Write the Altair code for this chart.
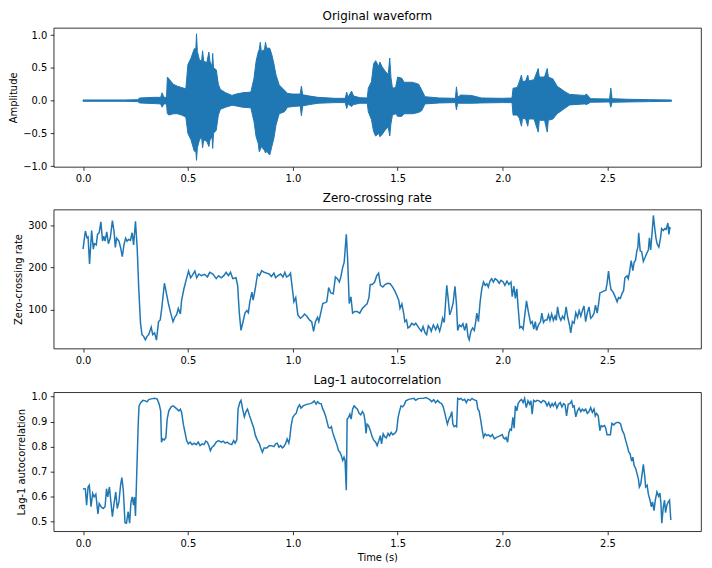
import altair as alt
import pandas as pd

# ---------------- waveform envelope (upper / lower) ----------------
wave_t = [0.0, 0.1, 0.2, 0.26, 0.27, 0.3, 0.34, 0.37, 0.377, 0.385,
          0.398, 0.402, 0.41, 0.43, 0.45, 0.47, 0.49, 0.5, 0.515, 0.53,
          0.538, 0.541, 0.545, 0.555, 0.565, 0.57, 0.575, 0.59, 0.6, 0.605,
          0.615, 0.618, 0.622, 0.635, 0.645, 0.655, 0.68, 0.71, 0.73, 0.76,
          0.8, 0.815, 0.825, 0.835, 0.84, 0.845, 0.85, 0.865, 0.87, 0.875,
          0.89, 0.9, 0.91, 0.92, 0.935, 0.96, 0.975, 1.0, 1.035, 1.041,
          1.047, 1.08, 1.12, 1.2, 1.25, 1.257, 1.263, 1.28, 1.29, 1.32,
          1.355, 1.36, 1.375, 1.385, 1.395, 1.41, 1.415, 1.425, 1.44, 1.455,
          1.462, 1.468, 1.475, 1.49, 1.5, 1.52, 1.53, 1.57, 1.6, 1.615,
          1.63, 1.7, 1.775, 1.78, 1.786, 1.8, 1.85, 1.9, 2.0, 2.045,
          2.05, 2.07, 2.08, 2.09, 2.095, 2.11, 2.12, 2.125, 2.15, 2.17,
          2.175, 2.2, 2.213, 2.218, 2.24, 2.26, 2.3, 2.32, 2.39, 2.4,
          2.42, 2.51, 2.516, 2.522, 2.6, 2.7, 2.805]
wave_hi = [0.01, 0.01, 0.01, 0.015, 0.04, 0.045, 0.05, 0.05, 0.12, 0.05,
           0.05, 0.36, 0.33, 0.25, 0.22, 0.2, 0.18, 0.55, 0.65, 0.79,
           0.8, 1.02, 0.75, 0.62, 0.6, 0.76, 0.6, 0.58, 0.74, 0.6,
           0.52, 0.72, 0.5, 0.47, 0.25, 0.17, 0.12, 0.08, 0.1, 0.12,
           0.13, 0.34, 0.6, 0.74, 0.78, 0.89, 0.75, 0.78, 0.89, 0.8,
           0.8, 0.7, 0.56, 0.39, 0.24, 0.16, 0.11, 0.1, 0.1, 0.22,
           0.09, 0.07, 0.05, 0.035, 0.035, 0.13, 0.05, 0.145, 0.07, 0.045,
           0.04, 0.19, 0.29, 0.56, 0.61, 0.52, 0.59, 0.52, 0.45, 0.4,
           0.65, 0.35, 0.19, 0.2, 0.36, 0.34, 0.28, 0.28, 0.25, 0.16,
           0.06, 0.04, 0.035, 0.21, 0.05, 0.085, 0.08, 0.04, 0.035, 0.04,
           0.19, 0.2, 0.29, 0.39, 0.29, 0.3, 0.39, 0.3, 0.32, 0.49,
           0.36, 0.36, 0.49, 0.36, 0.33, 0.22, 0.13, 0.095, 0.08, 0.1,
           0.03, 0.025, 0.19, 0.03, 0.02, 0.015, 0.01]
wave_lo = [-0.01, -0.01, -0.01, -0.015, -0.035, -0.04, -0.045, -0.05, -0.1, -0.05,
           -0.05, -0.2, -0.22, -0.2, -0.2, -0.22, -0.25, -0.5, -0.6, -0.77,
           -0.78, -0.91, -0.72, -0.6, -0.55, -0.72, -0.6, -0.62, -0.7, -0.6,
           -0.55, -0.73, -0.5, -0.45, -0.22, -0.13, -0.1, -0.07, -0.08, -0.1,
           -0.11, -0.32, -0.55, -0.65, -0.78, -0.75, -0.7, -0.76, -0.8, -0.77,
           -0.83, -0.7, -0.57, -0.37, -0.2, -0.17, -0.1, -0.09, -0.08, -0.23,
           -0.08, -0.06, -0.04, -0.03, -0.03, -0.12, -0.05, -0.09, -0.06, -0.04,
           -0.04, -0.17, -0.29, -0.47, -0.54, -0.5, -0.55, -0.52, -0.45, -0.4,
           -0.54, -0.35, -0.22, -0.2, -0.24, -0.24, -0.2, -0.2, -0.18, -0.15,
           -0.05, -0.035, -0.03, -0.14, -0.04, -0.04, -0.04, -0.035, -0.03, -0.03,
           -0.22, -0.22, -0.27, -0.39, -0.27, -0.28, -0.39, -0.28, -0.28, -0.48,
           -0.3, -0.3, -0.48, -0.3, -0.28, -0.2, -0.11, -0.065, -0.05, -0.06,
           -0.025, -0.02, -0.1, -0.025, -0.02, -0.015, -0.01]

# ---------------- zero-crossing rate ----------------
zcr_t = [0.0, 0.011, 0.019, 0.024, 0.031, 0.041, 0.049, 0.054, 0.063, 0.069,
         0.077, 0.085, 0.093, 0.099, 0.105, 0.113, 0.121, 0.130, 0.140, 0.148,
         0.154, 0.160, 0.171, 0.179, 0.187, 0.195, 0.203, 0.210, 0.218, 0.226,
         0.234, 0.241, 0.250, 0.258, 0.266, 0.274, 0.281, 0.289, 0.297, 0.305,
         0.313, 0.325, 0.332, 0.341, 0.350, 0.360, 0.368, 0.376, 0.388, 0.398,
         0.407, 0.418, 0.429, 0.439, 0.446, 0.454, 0.464, 0.470, 0.481, 0.491,
         0.503, 0.513, 0.520, 0.533, 0.542, 0.552, 0.564, 0.580, 0.593, 0.604,
         0.619, 0.635, 0.646, 0.659, 0.671, 0.682, 0.693, 0.703, 0.714, 0.729,
         0.737, 0.745, 0.753, 0.761, 0.772, 0.781, 0.788, 0.795, 0.805, 0.811,
         0.821, 0.832, 0.841, 0.852, 0.863, 0.876, 0.887, 0.898,
         0.910, 0.918, 0.929, 0.942, 0.953, 0.962, 0.970, 0.981, 0.989, 0.997,
         1.005, 1.014, 1.024, 1.036, 1.047, 1.056, 1.068, 1.079, 1.090, 1.099,
         1.108, 1.118, 1.124, 1.133, 1.143, 1.154, 1.162, 1.171, 1.181, 1.193,
         1.203, 1.212, 1.222, 1.229, 1.237, 1.245, 1.255, 1.261, 1.269, 1.277,
         1.285, 1.296, 1.306, 1.319, 1.331, 1.343, 1.354, 1.363, 1.369, 1.379,
         1.390, 1.400, 1.409, 1.418, 1.429, 1.440, 1.452, 1.464, 1.476, 1.486,
         1.495, 1.505, 1.511, 1.520, 1.528, 1.534, 1.542, 1.549, 1.558, 1.567,
         1.578, 1.586, 1.597, 1.605, 1.613, 1.621, 1.630, 1.638, 1.646, 1.654,
         1.660, 1.670, 1.681, 1.690, 1.700, 1.706, 1.714, 1.722, 1.728, 1.734,
         1.741, 1.748, 1.755, 1.764, 1.773, 1.780, 1.786, 1.794, 1.803, 1.811,
         1.819, 1.828, 1.835, 1.841, 1.849, 1.857, 1.865, 1.872,
         1.877, 1.885, 1.893, 1.901, 1.909, 1.917, 1.925, 1.932, 1.940, 1.948,
         1.956, 1.964, 1.975, 1.984, 1.992, 2.003, 2.011, 2.021, 2.030, 2.040,
         2.046, 2.054, 2.061, 2.068, 2.074, 2.082, 2.090, 2.098, 2.105, 2.114,
         2.124, 2.134, 2.141, 2.149, 2.156, 2.162, 2.171, 2.181, 2.187, 2.195,
         2.203, 2.212, 2.219, 2.226, 2.234, 2.242, 2.250, 2.256, 2.262, 2.270,
         2.278, 2.286, 2.294, 2.303, 2.310, 2.319, 2.325, 2.333, 2.341, 2.349,
         2.357, 2.365, 2.373, 2.382, 2.388, 2.396, 2.404, 2.412, 2.420, 2.428,
         2.436, 2.443, 2.451, 2.458, 2.464, 2.472, 2.483, 2.492, 2.498, 2.505,
         2.511, 2.517, 2.527, 2.536, 2.546, 2.553, 2.561, 2.570, 2.577, 2.583,
         2.593, 2.599, 2.605, 2.613, 2.621, 2.627, 2.634, 2.640, 2.645, 2.649,
         2.656, 2.663, 2.671, 2.679, 2.687, 2.695, 2.700, 2.706, 2.712, 2.719,
         2.725, 2.731, 2.737, 2.745, 2.753, 2.758, 2.766, 2.774, 2.780, 2.788,
         2.793, 2.797, 2.802]
zcr_v = [243, 286, 270, 272, 208, 287, 243, 256, 253, 278,
         282, 308, 262, 274, 262, 284, 256, 270, 311, 284,
         247, 269, 262, 247, 225, 253, 269, 262, 266, 264,
         282, 253, 309, 247, 145, 67, 40, 36, 28, 36,
         40, 58, 40, 44, 27, 71, 75, 106, 162, 137,
         114, 91, 71, 83, 87, 102, 89, 122, 149, 169,
         191, 175, 180, 191, 175, 184, 180, 183, 177, 188,
         184, 173, 180, 175, 180, 188, 180, 188, 173, 175,
         157, 91, 50, 67, 91, 97, 92, 118, 141, 122,
         149, 184, 180, 192, 188, 186, 184, 178,
         186, 175, 180, 184, 177, 188, 177, 180, 186, 153,
         118, 128, 87, 79, 83, 89, 83, 75, 71, 48,
         71, 81, 71, 91, 114, 116, 118, 152, 139, 137,
         177, 173, 165, 177, 198, 212, 278, 223, 114, 130,
         91, 95, 95, 91, 102, 108, 113, 128, 159, 159,
         165, 180, 186, 157, 153, 159, 162, 161, 153, 144,
         134, 122, 102, 113, 92, 71, 75, 56, 59, 67,
         63, 67, 59, 53, 48, 59, 45, 40, 61, 56,
         48, 63, 52, 63, 48, 59, 79, 69, 114, 157,
         123, 87, 97, 114, 155, 113, 50, 63, 59, 66,
         50, 67, 36, 28, 48, 56, 50, 71,
         91, 71, 118, 149, 165, 157, 161, 153, 167, 173,
         165, 173, 169, 162, 169, 165, 157, 167, 159, 165,
         130, 155, 126, 149, 106, 56, 59, 53, 83, 120,
         91, 67, 71, 53, 71, 50, 63, 71, 91, 69,
         75, 75, 87, 74, 89, 74, 84, 74, 106, 83,
         74, 84, 77, 106, 83, 63, 44, 71, 67, 92,
         81, 97, 84, 100, 108, 71, 92, 106, 79, 83,
         91, 110, 91, 114, 139, 141, 144, 145, 161, 191,
         165, 147, 141, 131, 118, 128, 126, 138, 145, 175,
         180, 173, 188, 216, 192, 212, 217, 239, 247, 282,
         239, 237, 214, 223, 233, 241, 270, 241, 278, 323,
         294, 270, 255, 248, 270, 292, 287, 292, 290, 305,
         278, 294, 292]

# ---------------- lag-1 autocorrelation ----------------
ac_t = [0.0, 0.011, 0.017, 0.024, 0.030, 0.038, 0.046, 0.053, 0.061, 0.071,
        0.077, 0.086, 0.096, 0.105, 0.112, 0.118, 0.126, 0.132, 0.140, 0.148,
        0.156, 0.163, 0.171, 0.179, 0.185, 0.192, 0.200, 0.207, 0.215, 0.222,
        0.228, 0.234, 0.241, 0.245, 0.250, 0.256, 0.263, 0.267, 0.275, 0.285,
        0.297, 0.305, 0.313, 0.325, 0.341, 0.354, 0.363, 0.370, 0.374, 0.379,
        0.387, 0.395, 0.401, 0.409, 0.420, 0.429, 0.439, 0.448, 0.457, 0.464,
        0.470, 0.478, 0.486, 0.494, 0.502, 0.511, 0.520, 0.530, 0.539, 0.549,
        0.558, 0.568, 0.577, 0.585, 0.593, 0.600, 0.607, 0.615, 0.624, 0.635,
        0.646, 0.659, 0.668, 0.678, 0.687, 0.698, 0.709, 0.718, 0.725, 0.733,
        0.739, 0.747, 0.753, 0.761, 0.769, 0.777, 0.784, 0.794, 0.803, 0.813,
        0.822, 0.832, 0.841, 0.847, 0.855, 0.863, 0.876, 0.887, 0.898,
        0.910, 0.918, 0.926, 0.934, 0.942, 0.950, 0.957, 0.965, 0.973, 0.981,
        0.986, 0.992, 1.000, 1.008, 1.016, 1.024, 1.032, 1.039, 1.049, 1.060,
        1.071, 1.083, 1.094, 1.102, 1.111, 1.118, 1.127, 1.135, 1.143, 1.149,
        1.156, 1.162, 1.170, 1.178, 1.184, 1.190, 1.198, 1.209, 1.218, 1.225,
        1.231, 1.238, 1.244, 1.249, 1.255, 1.259, 1.266, 1.272, 1.278, 1.285,
        1.292, 1.300, 1.308, 1.316, 1.324, 1.332, 1.339, 1.344, 1.349, 1.354,
        1.361, 1.369, 1.377, 1.385, 1.395, 1.402, 1.410, 1.417, 1.423, 1.431,
        1.438, 1.446, 1.454, 1.461, 1.469, 1.476, 1.486, 1.495, 1.502, 1.509,
        1.516, 1.524, 1.531, 1.539, 1.552, 1.564, 1.577, 1.586, 1.597, 1.610,
        1.622, 1.634, 1.643, 1.653, 1.662, 1.672, 1.681, 1.690, 1.700, 1.709,
        1.717, 1.725, 1.731, 1.737, 1.744, 1.752, 1.758, 1.763, 1.769, 1.775,
        1.781, 1.786, 1.794, 1.802, 1.810, 1.819, 1.827, 1.835, 1.846, 1.854,
        1.863,
        1.876, 1.882, 1.888, 1.895, 1.901, 1.909, 1.917, 1.925, 1.932, 1.942,
        1.951, 1.961, 1.970, 1.980, 1.989, 1.998, 2.005, 2.011, 2.017, 2.024,
        2.030, 2.036, 2.042, 2.049, 2.055, 2.061, 2.068, 2.074, 2.082, 2.090,
        2.098, 2.105, 2.113, 2.121, 2.129, 2.135, 2.141, 2.148, 2.156, 2.165,
        2.174, 2.184, 2.193, 2.203, 2.212, 2.220, 2.228, 2.236, 2.242, 2.251,
        2.259, 2.267, 2.275, 2.283, 2.291, 2.298, 2.305, 2.313, 2.321, 2.329,
        2.335, 2.341, 2.349, 2.357, 2.365, 2.373, 2.380, 2.388, 2.396, 2.404,
        2.412, 2.420, 2.428, 2.436, 2.442, 2.448, 2.456, 2.464, 2.470, 2.478,
        2.486, 2.492, 2.498, 2.506, 2.514, 2.521, 2.530, 2.537, 2.545, 2.555,
        2.563, 2.571, 2.579, 2.587, 2.594, 2.602, 2.608, 2.615, 2.621, 2.627,
        2.635, 2.643, 2.648, 2.652, 2.659, 2.665, 2.671, 2.678, 2.682, 2.689,
        2.695, 2.703, 2.709, 2.715, 2.722, 2.728, 2.736, 2.744, 2.750, 2.755,
        2.759, 2.766, 2.772, 2.777, 2.783, 2.790, 2.796, 2.802]
ac_v = [0.632, 0.631, 0.566, 0.639, 0.646, 0.560, 0.613, 0.599, 0.610, 0.531,
        0.573, 0.560, 0.553, 0.560, 0.632, 0.599, 0.639, 0.586, 0.520, 0.573,
        0.619, 0.553, 0.579, 0.646, 0.676, 0.626, 0.496, 0.494, 0.540, 0.494,
        0.573, 0.599, 0.566, 0.599, 0.523, 0.692, 0.890, 0.963, 0.976, 0.985,
        0.983, 0.979, 0.988, 0.991, 0.993, 0.990, 0.970, 0.943, 0.818, 0.831,
        0.827, 0.837, 0.910, 0.943, 0.959, 0.963, 0.957, 0.950, 0.943, 0.950,
        0.937, 0.890, 0.857, 0.824, 0.811, 0.818, 0.808, 0.814, 0.808, 0.818,
        0.804, 0.811, 0.808, 0.822, 0.818, 0.804, 0.784, 0.798, 0.804, 0.818,
        0.824, 0.818, 0.822, 0.814, 0.818, 0.811, 0.808, 0.824, 0.814, 0.827,
        0.950, 0.976, 0.985, 0.950, 0.919, 0.940, 0.950, 0.923, 0.901, 0.877,
        0.844, 0.824, 0.811, 0.795, 0.778, 0.795, 0.795, 0.804, 0.804,
        0.800, 0.811, 0.814, 0.798, 0.804, 0.795, 0.800, 0.811, 0.831, 0.814,
        0.837, 0.884, 0.917, 0.927, 0.933, 0.956, 0.967, 0.954, 0.963, 0.967,
        0.970, 0.972, 0.976, 0.983, 0.970, 0.980, 0.972, 0.972, 0.950, 0.940,
        0.923, 0.904, 0.877, 0.874, 0.880, 0.857, 0.837, 0.811, 0.784, 0.778,
        0.765, 0.745, 0.758, 0.745, 0.626, 0.910, 0.917, 0.930, 0.910, 0.950,
        0.963, 0.956, 0.950, 0.933, 0.927, 0.940, 0.930, 0.904, 0.853, 0.890,
        0.884, 0.866, 0.844, 0.827, 0.818, 0.804, 0.824, 0.844, 0.811, 0.851,
        0.840, 0.835, 0.853, 0.844, 0.857, 0.848, 0.853, 0.864, 0.917, 0.943,
        0.963, 0.959, 0.967, 0.983, 0.989, 0.991, 0.993, 0.985, 0.992, 0.993,
        0.993, 0.996, 0.993, 0.988, 0.980, 0.988, 0.976, 0.985, 0.976, 0.972,
        0.959, 0.933, 0.910, 0.890, 0.910, 0.923, 0.940, 0.890, 0.880, 0.884,
        0.880, 0.993, 0.989, 0.993, 0.985, 0.989, 0.976, 0.989, 0.985, 0.993,
        0.988,
        0.983, 0.950, 0.943, 0.910, 0.877, 0.837, 0.851, 0.844, 0.848, 0.840,
        0.848, 0.831, 0.837, 0.840, 0.844, 0.848, 0.835, 0.831, 0.837, 0.818,
        0.857, 0.870, 0.866, 0.917, 0.874, 0.963, 0.943, 0.972, 0.983, 0.989,
        0.976, 0.993, 0.956, 0.983, 0.970, 0.983, 0.930, 0.985, 0.980, 0.985,
        0.983, 0.976, 0.985, 0.980, 0.963, 0.976, 0.959, 0.972, 0.963, 0.976,
        0.954, 0.970, 0.976, 0.959, 0.972, 0.967, 0.923, 0.970, 0.972, 0.983,
        0.959, 0.963, 0.919, 0.943, 0.954, 0.940, 0.950, 0.943, 0.950, 0.933,
        0.940, 0.956, 0.937, 0.950, 0.923, 0.933, 0.923, 0.864, 0.884, 0.880,
        0.884, 0.874, 0.848, 0.848, 0.848, 0.893, 0.887, 0.893, 0.897, 0.897,
        0.890, 0.864, 0.851, 0.824, 0.804, 0.778, 0.771, 0.742, 0.758, 0.725,
        0.712, 0.685, 0.668, 0.639, 0.652, 0.689, 0.729, 0.679, 0.639, 0.646,
        0.610, 0.586, 0.560, 0.579, 0.544, 0.586, 0.619, 0.602, 0.615, 0.573,
        0.494, 0.557, 0.586, 0.536, 0.566, 0.579, 0.586, 0.507]

x_ticks = [0.0, 0.5, 1.0, 1.5, 2.0, 2.5]
wave_ticks = [-1.0, -0.5, 0.0, 0.5, 1.0]
zcr_ticks = [100, 200, 300]
ac_ticks = [0.5, 0.6, 0.7, 0.8, 0.9, 1.0]

BLUE = "#1f77b4"
FONT = "DejaVu Sans"
W, H = 652, 140

xscale = alt.Scale(domain=[-0.14, 2.946], nice=False, zero=False)


def x_enc(title=None):
    return alt.X("t:Q", scale=xscale,
                 axis=alt.Axis(values=x_ticks, format=".1f", title=title))


wave_df = pd.DataFrame({"t": wave_t, "hi": wave_hi, "lo": wave_lo})
zcr_df = pd.DataFrame({"t": zcr_t, "v": zcr_v})
ac_df = pd.DataFrame({"t": ac_t, "v": ac_v})

wave = alt.Chart(wave_df).mark_area(
    color=BLUE, stroke=BLUE, strokeWidth=1, opacity=1
).encode(
    x=x_enc(),
    y=alt.Y("hi:Q", scale=alt.Scale(domain=[-1.01, 1.11], nice=False, zero=False),
            axis=alt.Axis(values=wave_ticks, format=".1f", title="Amplitude")),
    y2="lo:Q",
).properties(width=W, height=H, title="Original waveform")

zcr = alt.Chart(zcr_df).mark_line(color=BLUE, strokeWidth=1.5).encode(
    x=x_enc(),
    y=alt.Y("v:Q", scale=alt.Scale(domain=[7, 337], nice=False, zero=False),
            axis=alt.Axis(values=zcr_ticks, format="d", title="Zero-crossing rate")),
).properties(width=W, height=H, title="Zero-crossing rate")

ac = alt.Chart(ac_df).mark_line(color=BLUE, strokeWidth=1.5).encode(
    x=x_enc("Time (s)"),
    y=alt.Y("v:Q", scale=alt.Scale(domain=[0.462, 1.0175], nice=False, zero=False),
            axis=alt.Axis(values=ac_ticks, format=".1f", title="Lag-1 autocorrelation")),
).properties(width=W, height=H, title="Lag-1 autocorrelation")

chart = alt.vconcat(wave, zcr, ac, spacing=7).properties(
    padding={"left": 0, "top": 0, "right": 2, "bottom": 0}
).configure_view(
    stroke="black", strokeWidth=0.8
).configure_axis(
    domain=False, grid=False,
    tickColor="black", tickSize=3.5, tickWidth=0.8,
    labelFont=FONT, labelFontSize=10, labelColor="black", labelPadding=3.5,
    titleFont=FONT, titleFontSize=10, titleColor="black", titleFontWeight="normal",
    titlePadding=4,
).configure_title(
    font=FONT, fontSize=12, fontWeight="normal", color="black", anchor="middle", offset=4.5
)

chart.save("out.html", embed_options={"renderer": "svg", "actions": False})
